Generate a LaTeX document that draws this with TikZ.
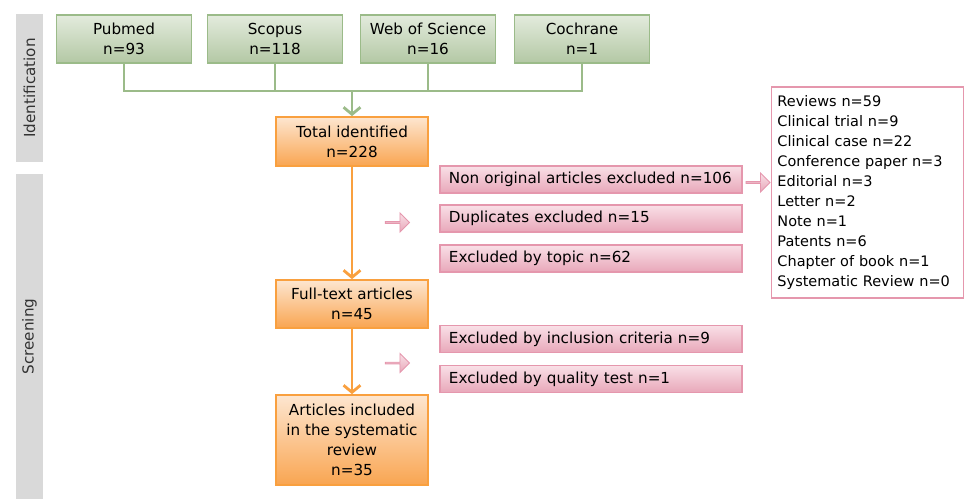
\documentclass[tikz,border=0pt]{standalone}
\usepackage{fontspec}
\setmainfont{DejaVu Sans}
\usetikzlibrary{arrows.meta,shapes.arrows}

\definecolor{phasegray}{HTML}{D9D9D9}
\definecolor{srcline}{HTML}{9BBB89}
\definecolor{srctop}{HTML}{E3EBDD}
\definecolor{srcbot}{HTML}{B3C8A4}
\definecolor{stageline}{HTML}{F9A03F}
\definecolor{stagetop}{HTML}{FDE6D0}
\definecolor{stagebot}{HTML}{F9A551}
\definecolor{exclline}{HTML}{E597AD}
\definecolor{excltop}{HTML}{F9E0E7}
\definecolor{exclbot}{HTML}{E8A7B9}

\tikzset{
  every node/.style={font=\fontsize{10.8}{14.2}\selectfont},
  phase/.style={fill=phasegray, rotate=90, minimum height=0.675cm, text=black!80, inner sep=0pt},
  srcbox/.style={draw=srcline, line width=1.2pt, top color=srctop, bottom color=srcbot,
    minimum width=3.375cm, minimum height=1.2cm, align=center, inner sep=0pt},
  stagebox/.style={draw=stageline, line width=1.2pt, top color=stagetop, bottom color=stagebot,
    minimum width=3.8cm, align=center, inner sep=0pt},
  exclbox/.style={draw=exclline, line width=1.2pt, top color=excltop, bottom color=exclbot,
    text width=7.1cm, inner xsep=0.225cm, minimum height=0.675cm, align=left, inner ysep=0pt},
  pinkarrow/.style={single arrow, draw=exclline, line width=0.6pt, top color=excltop, bottom color=exclbot,
    minimum height=0.6cm, minimum width=0.475cm, single arrow head extend=0.11cm, inner sep=0pt},
  srcflow/.style={draw=srcline, line width=2pt},
  stageflow/.style={draw=stageline, line width=2pt}
}

\begin{document}
\begin{tikzpicture}[x=0.025cm,y=-0.025cm]
  \useasboundingbox (0,0) rectangle (965,499);

  % phases
  \node[phase, minimum width=3.7cm] (ident) at (29.5,88) {Identification};
  \node[phase, minimum width=8.125cm] (screen) at (29.5,336.5) {Screening};

  % sources
  \node[srcbox] (pubmed) at (124,39) {Pubmed\\n=93};
  \node[srcbox] (scopus) at (275,39) {Scopus\\n=118};
  \node[srcbox] (wos) at (428,39) {Web of Science\\n=16};
  \node[srcbox] (cochrane) at (582,39) {Cochrane\\n=1};
  \coordinate (hub) at (352,91);

  % stages
  \node[stagebox, minimum height=1.225cm] (total) at (352,141.5) {Total identified\\n=228};
  \node[stagebox, minimum height=1.2cm] (fulltext) at (352,304) {Full-text articles\\n=45};
  \node[stagebox, minimum height=2.25cm] (included) at (352,440) {Articles included\\in the systematic\\review\\n=35};

  % exclusions
  \node[exclbox] (nonorig) at (591,179.5) {Non original articles excluded n=106};
  \node[exclbox] (dupl) at (591,218.5) {Duplicates excluded n=15};
  \node[exclbox] (topic) at (591,258.5) {Excluded by topic n=62};
  \node[exclbox] (incl) at (591,339) {Excluded by inclusion criteria n=9};
  \node[exclbox] (quality) at (591,379) {Excluded by quality test n=1};

  \node[draw=exclline, line width=1.2pt, fill=white, text width=4.5cm, inner xsep=0.15cm,
    minimum height=5.275cm, align=left, font=\fontsize{10.3}{14.2}\selectfont] (types) at (867.5,192.5)
    {Reviews n=59\\Clinical trial n=9\\Clinical case n=22\\Conference paper n=3\\Editorial n=3\\Letter n=2\\Note n=1\\Patents n=6\\Chapter of book n=1\\Systematic Review n=0};

  \node[pinkarrow] (toexcl1) at (397,222.5) {};
  \node[pinkarrow] (toexcl2) at (397,363) {};
  \node[pinkarrow] (totypes) at (757.5,182.5) {};

  % connectors
  \draw[srcflow] (pubmed.south) |- (hub) -| (cochrane.south);
  \draw[srcflow] (scopus.south) |- (hub);
  \draw[srcflow] (wos.south) |- (hub);
  \draw[srcflow, -{Straight Barb[length=5pt,width=12pt]}] (hub) -- (total.north);
  \draw[stageflow, -{Straight Barb[length=5pt,width=12pt]}] (total.south) -- (fulltext.north);
  \draw[stageflow, -{Straight Barb[length=5pt,width=12pt]}] (fulltext.south) -- (included.north);
\end{tikzpicture}
\end{document}
